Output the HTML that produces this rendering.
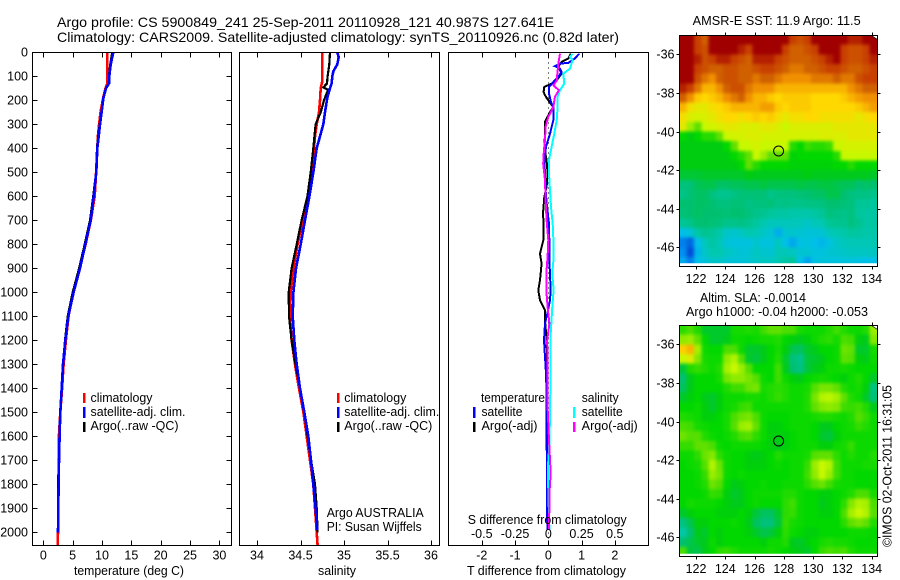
<!DOCTYPE html>
<html lang="en">
<head>
<meta charset="utf-8">
<title>Argo profile 5900849_241</title>
<style>
html,body{margin:0;padding:0;background:#fff;}
svg{display:block;}
text{font-family:"Liberation Sans",sans-serif;font-size:12.5px;fill:#000;}
.t{font-size:14px;}
</style>
</head>
<body>
<svg id="fig" xmlns="http://www.w3.org/2000/svg" width="900" height="580" viewBox="0 0 900 580">
<rect x="0" y="0" width="900" height="580" fill="#fff"/>
<defs>
<clipPath id="clip-sst"><rect x="679.3" y="35.3" width="198" height="228"/></clipPath>
<clipPath id="clip-sla"><rect x="679.3" y="325.7" width="198" height="228"/></clipPath>
<filter id="soften" x="-5%" y="-5%" width="110%" height="110%" color-interpolation-filters="sRGB">
<feGaussianBlur stdDeviation="1.6"/>
<feComponentTransfer><feFuncA type="linear" slope="30"/></feComponentTransfer>
</filter>
</defs>
<g id="maps"></g>
<g id="plots"></g>

<text class="t" x="57" y="27" textLength="497" lengthAdjust="spacingAndGlyphs">Argo profile: CS 5900849_241 25-Sep-2011 20110928_121 40.987S 127.641E</text>
<text class="t" x="57" y="42" textLength="562" lengthAdjust="spacingAndGlyphs">Climatology: CARS2009. Satellite-adjusted climatology: synTS_20110926.nc (0.82d later)</text>

<text x="74" y="575" textLength="110" lengthAdjust="spacingAndGlyphs">temperature (deg C)</text>
<text x="318" y="575" textLength="38" lengthAdjust="spacingAndGlyphs">salinity</text>
<text x="467" y="575" textLength="159" lengthAdjust="spacingAndGlyphs">T difference from climatology</text>
<text x="467.7" y="524" textLength="159" lengthAdjust="spacingAndGlyphs">S difference from climatology</text>

<g>
<rect x="83" y="393" width="2.5" height="10" fill="#f00"/>
<rect x="83" y="407" width="2.5" height="11" fill="#00f"/>
<rect x="83" y="422" width="2.5" height="10" fill="#000"/>
<text x="90.5" y="402" textLength="62" lengthAdjust="spacingAndGlyphs">climatology</text>
<text x="90.5" y="416" textLength="95" lengthAdjust="spacingAndGlyphs">satellite-adj. clim.</text>
<text x="90.5" y="430" textLength="88" lengthAdjust="spacingAndGlyphs">Argo(..raw -QC)</text>
</g>
<g>
<rect x="337" y="393" width="2.5" height="10" fill="#f00"/>
<rect x="337" y="407" width="2.5" height="11" fill="#00f"/>
<rect x="337" y="422" width="2.5" height="10" fill="#000"/>
<text x="344.3" y="402" textLength="62" lengthAdjust="spacingAndGlyphs">climatology</text>
<text x="344.3" y="416" textLength="95" lengthAdjust="spacingAndGlyphs">satellite-adj. clim.</text>
<text x="344.3" y="430" textLength="88" lengthAdjust="spacingAndGlyphs">Argo(..raw -QC)</text>
</g>
<text x="326.7" y="517" textLength="97" lengthAdjust="spacingAndGlyphs">Argo AUSTRALIA</text>
<text x="326.7" y="531" textLength="95" lengthAdjust="spacingAndGlyphs">PI: Susan Wijffels</text>

<g>
<text x="481" y="402" textLength="64" lengthAdjust="spacingAndGlyphs">temperature</text>
<rect x="473" y="407" width="2.5" height="11" fill="#00f"/>
<rect x="473" y="422" width="2.5" height="10" fill="#000"/>
<text x="481.5" y="416" textLength="41" lengthAdjust="spacingAndGlyphs">satellite</text>
<text x="481.5" y="430" textLength="56" lengthAdjust="spacingAndGlyphs">Argo(-adj)</text>
<text x="581.7" y="402" textLength="37" lengthAdjust="spacingAndGlyphs">salinity</text>
<rect x="573" y="407" width="2.5" height="11" fill="#0ff"/>
<rect x="573" y="422" width="2.5" height="10" fill="#f0f"/>
<text x="581.7" y="416" textLength="41" lengthAdjust="spacingAndGlyphs">satellite</text>
<text x="581.7" y="430" textLength="56" lengthAdjust="spacingAndGlyphs">Argo(-adj)</text>
</g>

<text x="692.7" y="25" textLength="168" lengthAdjust="spacingAndGlyphs">AMSR-E SST: 11.9 Argo: 11.5</text>
<text x="700" y="302" textLength="106" lengthAdjust="spacingAndGlyphs">Altim. SLA: -0.0014</text>
<text x="686" y="316" textLength="182" lengthAdjust="spacingAndGlyphs">Argo h1000: -0.04 h2000: -0.053</text>
<text transform="translate(891.5,547) rotate(-90)" x="0" y="0" textLength="162" lengthAdjust="spacingAndGlyphs">©IMOS 02-Oct-2011 16:31:05</text>

<script>
// ---------- chart data ----------
const depthTicks = [0,100,200,300,400,500,600,700,800,900,1000,1100,1200,1300,1400,1500,1600,1700,1800,1900,2000];
const tempTicks = [0,5,10,15,20,25,30];
const salTicks = [34,34.5,35,35.5,36];
const salTickLabels = ['34','34.5','35','35.5','36'];
const tDiffTicks = [-2,-1,0,1,2];
const tDiffLabels = ['-2','-1','0','1','2'];
const sDiffTicks = [-0.5,-0.25,0,0.25,0.5];
const sDiffLabels = ['-0.5','-0.25','0','0.25','0.5'];
const mapLonTicks = [122,124,126,128,130,132,134];
const mapLatTicks = [-36,-38,-40,-42,-44,-46];

const tempClimDepth = [0,100,130,150,190,250,300,350,400,500,600,700,800,900,1000,1100,1200,1300,1400,1500,1600,1700,1800,1900,2000,2054];
const tempClimValues = [10.9,10.9,10.9,10.6,10.2,9.75,9.5,9.3,9.2,9.0,8.75,8.1,7.2,6.2,5.1,4.3,3.85,3.45,3.2,2.9,2.65,2.65,2.6,2.55,2.5,2.45];
const tempArgoDepth = [0,50,100,130,150,190,250,300,350,400,500,600,700,800,900,1000,1100,1200,1300,1400,1500,1600,1700,1800,1900,2000];
const tempArgoValues = [11.75,11.4,11.2,11.15,10.7,10.2,9.9,9.6,9.35,9.15,9.0,8.5,7.95,7.05,6.1,5.0,4.15,3.7,3.35,3.1,2.9,2.75,2.65,2.5,2.5,2.5];
const tempSatDepth = [0,50,100,130,150,190,250,300,350,400,500,600,700,800,900,1000,1100,1200,1300,1400,1500,1600,1700,1800,1900,2000];
const tempSatValues = [11.93,11.48,11.25,11.19,10.68,10.23,9.94,9.66,9.43,9.20,9.03,8.58,8.07,7.16,6.25,5.17,4.26,3.75,3.35,3.13,2.90,2.78,2.67,2.61,2.56,2.50];

const salClimDepth = [0,120,150,200,250,300,350,400,500,600,700,800,900,1000,1100,1200,1300,1400,1500,1600,1700,1800,1900,2000,2054];
const salClimValues = [34.751,34.751,34.732,34.724,34.713,34.686,34.667,34.655,34.640,34.594,34.525,34.467,34.418,34.387,34.379,34.398,34.437,34.483,34.533,34.571,34.609,34.647,34.667,34.686,34.697];
const salArgoDepth = [0,50,100,130,146,157,170,200,250,300,400,500,600,700,800,900,1000,1100,1200,1300,1400,1500,1600,1700,1800,1900,2000];
const salArgoValues = [34.839,34.831,34.812,34.805,34.762,34.820,34.801,34.770,34.732,34.674,34.647,34.617,34.579,34.513,34.456,34.398,34.364,34.368,34.398,34.444,34.494,34.544,34.582,34.621,34.667,34.686,34.697];
const salSatDepth = [0,20,50,80,100,130,150,190,250,300,350,400,500,600,700,800,900,1000,1100,1200,1300,1400,1500,1600,1700,1800,1900,1990];
const salSatValues = [34.923,34.939,34.923,34.877,34.866,34.858,34.839,34.808,34.782,34.762,34.724,34.686,34.647,34.602,34.552,34.502,34.448,34.418,34.410,34.429,34.456,34.494,34.544,34.590,34.621,34.647,34.674,34.693];

const tDiffArgoDepth = [6,26,40,61,89,117,131,144,165,179,200,228,249,290,339,394,450,506,561,603,672,714,783,839,880,950,991,1033,1075,1116,1200,1339,1422,1616,1728,1839,1991];
const tDiffArgoValues = [.68,.60,.40,.30,.40,.25,.10,-.12,-.14,-.10,0,.15,.05,-.10,-.10,-.12,-.05,-.02,-.05,-.12,-.16,-.14,-.15,-.25,-.20,-.25,-.30,-.25,-.10,-.10,-.05,-.03,-.05,-.05,-.04,-.02,-.02];
const tDiffSatDepth = [6,26,44,47,58,68,82,103,124,144,172,207,228,283,339,394,450,506,575,644,714,783,866,922,991,1033,1089,1130,1200,1269,1339,1478,1755,1991];
const tDiffSatValues = [.93,.80,.60,.35,.20,.35,.40,.30,.15,.02,.02,.08,.15,.15,.05,-.07,-.12,-.10,-.08,-.04,.02,.03,.03,.05,.07,.05,-.03,-.10,-.13,-.10,-.07,-.04,-.04,-.03];
const sDiffSatDepth = [6,19,33,68,89,131,158,186,228,283,339,394,450,506,575,644,714,783,866,922,991,1061,1200,1339,1478,1616,1728,1825,1991];
const sDiffSatValues = [.183,.163,.183,.163,.113,.120,.088,.070,.070,.063,.045,.025,.005,.005,.013,.020,.033,.038,.038,.030,.040,.030,.015,.018,.013,.010,-.003,0,.008];
const sDiffArgoDepth = [6,47,117,138,158,186,228,269,311,367,408,464,533,617,700,783,852,922,991,1061,1130,1200,1339,1478,1616,1755,1825,1991];
const sDiffArgoValues = [.088,.075,.063,.038,.080,.050,.038,0,-.020,-.025,-.033,-.038,-.025,-.020,-.013,0,-.005,-.015,-.015,-.005,.008,-.008,-.005,-.005,.005,.018,.010,.005];

const mapLons = [120.86,121.36,121.86,122.36,122.86,123.36,123.86,124.36,124.86,125.36,125.86,126.36,126.86,127.36,127.86,128.36,128.86,129.36,129.86,130.36,130.86,131.36,131.86,132.36,132.86,133.36,133.86];
const mapLats = [-35,-35.5,-36,-36.5,-37,-37.5,-38,-38.5,-39,-39.5,-40,-40.5,-41,-41.5,-42,-42.5,-43,-43.5,-44,-44.5,-45,-45.5,-46,-46.5];
const argoLon = 127.641;
const argoLat = -40.987;

// SST (deg C, colour-scale estimate), one row per latitude
const sstGrid = [
[17,17,16,15,17,17,17,17,17,17,17,17,17,17,17,16,15.5,16,17,17,17,17,17,16.5,16.5,17,17],
[17,17,16,15.5,17,17,17,17,16.5,16,17,17,17,17,16,15,15,15.5,16,17,17,17,16,15.5,15.5,16,17],
[17,17,16.5,15.5,16,16.5,16.5,16,15.5,15,16.5,16.5,16.5,16,15.5,15,15,15,15.5,16,16.5,17,16,15.5,15.5,16,16.5],
[17,17,16,15.5,15,15,15.5,15.5,15,15,15.5,16,16,15.5,15,14.5,14.5,15,15,15.5,16,16,15.5,15,15,15.5,16],
[17,17,15.5,14.5,14,15,15.5,15.5,15,15,14.5,15,15,14.5,14,14,14,14,14.5,14.5,14.5,15,14.5,14.5,15.5,16,16],
[16.5,16,14.5,13.5,13.5,14,15,15.5,15.5,14.5,14,14,14,13.5,13.5,13.5,13.5,13.5,13.5,13.5,13.5,13.5,13.5,14,14.5,15,15],
[15,14,13.2,13,13.2,13.5,14,14.5,15,14,13.5,13.5,13.2,13,13.2,13.2,13.2,13.2,13,13,13,13,13.2,13.5,13.8,14,14],
[13.5,12.8,12.5,12.5,12.8,13,13.2,13.5,13.5,13.5,13.5,13.8,13.8,13.2,13,13.2,13.2,13.2,13,13,13,13,13,13,13.2,13.5,13.8],
[12.8,12.3,12.2,12.3,12.5,12.8,13,13,12.8,13,13.2,13,13.2,12.8,12.5,12.8,12.8,13,13,12.8,12.8,12.8,12.8,12.8,12.5,12.8,13],
[12.5,11.8,11.5,12,12.2,12.3,12.5,12.5,12.3,12.3,12.3,12.5,12.5,12.3,12,12.3,12.3,12.3,12.3,12.3,12.3,12.5,12.5,12.5,12.5,12.5,12.5],
[11,10.8,11,11.2,11.2,11.5,12,12.2,12.2,12.3,12.3,12.2,12.2,12.2,12.2,12.2,12.2,12.2,12.2,12.3,12.3,12.3,12.3,12.5,12.5,12.5,12.5],
[10.8,10.8,10.8,10.8,10.8,10.8,11,11.5,12,12,12.2,12,12,12,12,11.2,11,11.3,11.2,11.2,11.3,12,12.2,12.2,12.2,12.2,12.2],
[10.8,10.8,10.8,10.8,10.8,10.8,10.8,11,11.2,11.5,12,11.8,11.5,11.5,11.5,10.9,11,11,11,11,11,11.2,12,12,12,12,12],
[10.8,10.8,10.8,10.8,10.8,10.8,10.8,10.8,11,11.5,11.2,11,11,11,11,10.9,10.9,10.9,10.9,10.9,10.9,11,11,11.2,11,11,11],
[10.5,10.5,10.5,10.6,10.6,10.6,10.6,10.6,10.6,10.8,10.7,10.7,10.7,10.7,10.7,10.7,10.7,10.8,10.7,10.7,10.7,10.7,10.7,10.7,10.7,10.7,10.6],
[9.8,9.9,10.2,10.3,10.3,10.1,10.1,10.2,10.2,10.3,10.3,10.4,10.3,10.3,10.3,10.3,10.4,10.3,10.3,10.4,10.4,10.3,10.2,10.2,10,10.1,10],
[9.6,9.9,10.1,10.1,9.8,9.5,9.5,9.7,9.9,9.9,9.9,9.9,9.6,9.8,9.8,9.8,9.9,10,10.1,10.1,10.3,10.3,10,9.8,9.7,9.7,9.6],
[10,10,10.1,10.1,10,9.8,9.8,9.9,9.9,9.7,9.8,9.8,9.9,9.6,9.7,9.6,9.6,9.7,9.7,9.8,10,10,9.9,9.8,9.4,9.4,9.3],
[9.9,10,10.1,10,10,10,9.9,10,10,9.8,9.6,9.5,9.3,9.2,9.2,9.1,9.1,9.1,9.2,9.4,9.8,9.7,9.6,9.8,9.3,9.2,9.2],
[9.4,9.6,10,10,9.9,9.8,9.6,9.6,9.7,9.5,9.3,9,8.8,8.8,8.8,8.8,8.8,8.6,8.8,9,9.4,9.5,9.5,9.8,9.5,9.2,9.2],
[8,8.3,9.2,9.5,9.4,9.1,8.6,8.5,8.7,9,8.9,8.6,8.4,7.6,8.4,8.5,8.4,8.3,8.3,8.4,8.8,9,9.1,9.3,9.2,9.1,9.1],
[6.8,6.5,8,8.8,9.2,8.9,8.3,8.2,8.2,8.2,8.5,8.2,8.2,8.7,8,7.5,8.1,8.2,8,7.8,8.2,8.6,8.8,8.9,8.9,8.9,9],
[7,6.2,7.8,8.6,9,9,8.7,8.5,8.3,8.4,8.7,8.5,8.4,8.9,8.9,8.7,8.4,8.4,8.2,8.2,8.4,8.5,8.6,8.7,8.7,8.7,8.7],
[7.5,6.8,8,8.3,8.6,8.6,8.4,8.3,8.3,8.4,8.6,8.7,8.7,9,9.2,9.3,8,7.4,8.1,8.3,8.2,8.2,8.2,8.2,8.1,8,8]
];

// Sea level anomaly (cm, colour-scale estimate), one row per latitude
const slaGrid = [
[4,7,3,-3,-3,-3,-3,2,2,3,2,6,9,9,7,7,2,1,1,1,3,6,3,1,1,3,14],
[13,14,9,0,-3,-3,-2,1,1,0,1,2,2,3,0,-1,-2,-1,1,3,4,2,7,6,-1,-2,12],
[24,26,15,1,0,0,7,7,1,-3,-3,-2,0,2,-1,-5,-6,-3,-2,0,0,1,10,9,-3,-3,2],
[18,20,12,2,1,1,13,16,8,-3,-4,-2,0,3,-3,-8,-10,-4,-3,-2,0,1,9,8,-1,-2,1],
[-4,3,5,3,1,3,15,18,14,8,0,0,0,6,-2,-7,-9,-4,-2,-1,1,1,2,1,0,0,0],
[-7,-2,0,0,0,2,11,13,13,11,8,1,0,6,1,-1,-2,0,1,2,1,0,-1,1,3,0,-3],
[-6,-2,0,0,0,0,3,6,6,10,11,2,3,4,3,1,1,2,8,11,11,9,3,1,2,-1,-9],
[-3,-1,0,-2,-3,-1,1,1,1,2,2,1,3,5,3,1,1,3,11,16,17,15,9,3,1,-3,-8],
[0,0,1,-1,-3,-1,1,2,5,6,1,1,1,1,1,1,1,3,9,12,13,12,6,5,6,3,-2],
[3,2,1,-1,-1,0,2,7,10,11,7,1,0,0,0,1,1,1,2,3,3,2,1,3,8,5,1],
[7,6,2,1,0,0,2,8,14,15,9,1,-1,-1,0,1,1,1,0,-2,-2,0,1,2,5,3,1],
[10,8,8,3,1,0,1,3,7,8,4,1,-1,-1,-1,0,1,1,0,-3,-4,-1,1,1,1,1,1],
[5,5,9,9,7,1,0,1,1,1,1,0,-1,-2,-1,0,1,1,1,-1,-1,1,2,5,1,1,1],
[1,1,4,10,12,4,1,0,0,-1,-2,-1,0,3,1,1,1,2,8,9,9,4,1,3,1,1,3],
[0,1,2,8,16,10,1,0,0,-1,-1,-1,0,1,0,1,1,5,14,18,16,6,1,1,1,2,2],
[0,0,1,5,14,11,1,0,1,0,0,0,0,0,0,1,1,6,13,18,14,6,1,1,0,0,0],
[0,0,1,3,10,8,0,-2,-1,0,0,1,0,0,1,1,1,4,8,10,6,2,1,1,0,0,0],
[0,0,0,1,5,4,-1,-3,-2,0,1,1,1,1,3,3,1,0,0,-1,-1,0,1,3,7,7,2],
[0,2,1,1,1,0,-1,-2,-2,0,1,0,0,0,4,6,1,0,0,-2,-1,0,4,12,16,15,7],
[-3,-1,0,0,0,-1,-1,-1,0,-1,-4,-6,-6,-3,4,5,1,0,0,-1,-1,0,7,15,18,16,8],
[-9,-5,-1,-1,0,0,0,1,0,-2,-6,-8,-8,-4,5,2,1,0,0,0,0,0,4,9,11,9,3],
[-13,-7,-2,-3,0,-1,0,0,0,-1,-3,-5,-4,-1,4,1,0,-1,-1,0,0,0,0,1,1,1,0],
[-7,-5,-3,-2,1,-1,0,0,0,0,0,-1,1,1,3,-2,-3,-1,0,2,3,2,2,1,0,0,0],
[7,-4,-5,-2,0,4,5,3,1,1,1,1,2,1,0,-1,-2,-3,0,5,7,6,7,3,1,1,1]
];

// ---------- helpers ----------
const NS = 'http://www.w3.org/2000/svg';
function mk(parent, tag, attrs, txt){
  const e = document.createElementNS(NS, tag);
  for (const k in attrs) e.setAttribute(k, attrs[k]);
  if (txt !== undefined) e.textContent = txt;
  parent.appendChild(e);
  return e;
}
const plots = document.getElementById('plots');
const maps = document.getElementById('maps');

// ---------- axis functions ----------
const depthY = d => 52.3 + d * 0.24;
const tempX = v => 43.3 + v * 5.87;
const salX = v => 257 + (v - 34) * 87;
const tDiffX = v => 548.3 + v * 33.25;
const sDiffX = v => 548.3 + v * 133;
const lonX = lon => 696 + (lon - 122) * 14.64;
const sstLatY = lat => 54.3 + (-36 - lat) * 19.3;
const slaLatY = lat => 344.3 + (-36 - lat) * 19.3;

// ---------- panels ----------
const panelTop = 52.5, panelBottom = 545.5;
function drawPanel(name, left, right){
  const frame = mk(plots, 'rect', {x:left, y:panelTop, width:right-left, height:panelBottom-panelTop, fill:'none', stroke:'#000', 'stroke-width':1, 'shape-rendering':'crispEdges'});
  
  
}
function tickLine(x1, y1, x2, y2){
  const t = mk(plots, 'line', {x1:x1, y1:y1, x2:x2, y2:y2, stroke:'#000', 'stroke-width':1, 'shape-rendering':'crispEdges'});
  
  
}
function tickLabel(x, y, anchor, s){
  const t = mk(plots, 'text', {x:x, y:y, 'text-anchor':anchor}, s);
  
  
}
function drawSeries(name, depth, values, xFn, color, width){
  const pts = depth.map((d, i) => xFn(values[i]).toFixed(1) + ',' + depthY(d).toFixed(1)).join(' ');
  const p = mk(plots, 'polyline', {points:pts, fill:'none', stroke:color, 'stroke-width':width, 'shape-rendering':'crispEdges', 'stroke-linejoin':'miter'});
  
  
}

// zero line in the difference panel
const zeroLine = mk(plots, 'line', {x1:tDiffX(0), y1:depthY(0), x2:tDiffX(0), y2:depthY(2054), stroke:'#000', 'stroke-width':1, 'stroke-dasharray':'1 4', 'shape-rendering':'crispEdges'});



drawSeries('temperature-climatology-line', tempClimDepth, tempClimValues, tempX, '#f00', 2.6);
drawSeries('temperature-argo-line', tempArgoDepth, tempArgoValues, tempX, '#000', 2.2);
drawSeries('temperature-satellite-line', tempSatDepth, tempSatValues, tempX, '#00f', 2.6);

drawSeries('salinity-climatology-line', salClimDepth, salClimValues, salX, '#f00', 2.6);
drawSeries('salinity-argo-line', salArgoDepth, salArgoValues, salX, '#000', 2.2);
drawSeries('salinity-satellite-line', salSatDepth, salSatValues, salX, '#00f', 2.6);

drawSeries('t-difference-argo-line', tDiffArgoDepth, tDiffArgoValues, tDiffX, '#000', 2);
drawSeries('t-difference-satellite-line', tDiffSatDepth, tDiffSatValues, tDiffX, '#00f', 2);
drawSeries('s-difference-satellite-line', sDiffSatDepth, sDiffSatValues, sDiffX, '#0ff', 2);
drawSeries('s-difference-argo-line', sDiffArgoDepth, sDiffArgoValues, sDiffX, '#f0f', 2);

drawPanel('temperature-panel', 32.5, 231.5);
drawPanel('salinity-panel', 239.5, 439.5);
drawPanel('difference-panel', 448.5, 648.5);

depthTicks.forEach(d => {
  const y = Math.round(depthY(d)) + 0.5;
  tickLine(32.5, y, 37.5, y);
  tickLine(226.5, y, 231.5, y);
  tickLabel(28, y + 4, 'end', String(d));
});
tempTicks.forEach(v => {
  const x = Math.round(tempX(v)) + 0.5;
  tickLine(x, panelTop, x, panelTop + 5);
  tickLine(x, panelBottom, x, panelBottom - 5);
  tickLabel(tempX(v), 559.5, 'middle', String(v));
});
salTicks.forEach((v, i) => {
  const x = Math.round(salX(v)) + 0.5;
  tickLine(x, panelTop, x, panelTop + 5);
  tickLine(x, panelBottom, x, panelBottom - 5);
  tickLabel(salX(v), 559.5, 'middle', salTickLabels[i]);
});
tDiffTicks.forEach((v, i) => {
  const x = Math.round(tDiffX(v)) + 0.5;
  tickLine(x, panelTop, x, panelTop + 5);
  tickLine(x, panelBottom, x, panelBottom - 5);
  tickLabel(tDiffX(v), 559.5, 'middle', tDiffLabels[i]);
});
sDiffTicks.forEach((v, i) => {
  tickLabel(sDiffX(v), 538, 'middle', sDiffLabels[i]);
});

// ---------- maps ----------
const rampStops = [[6,0,64,208],[7,0,144,240],[8,0,192,232],[9,0,200,176],[10,0,192,112],[10.8,0,204,16],[11,0,216,0],[11.5,96,224,0],[12,200,248,0],[13,255,216,0],[14,240,144,0],[15,208,96,0],[16,200,64,0],[17,160,0,0]];
function ramp(v){
  if (v <= rampStops[0][0]) return 'rgb(' + rampStops[0].slice(1).join(',') + ')';
  for (let i = 1; i < rampStops.length; i++){
    const a = rampStops[i-1], b = rampStops[i];
    if (v <= b[0]){
      const f = (v - a[0]) / (b[0] - a[0]);
      return 'rgb(' + [1,2,3].map(k => Math.round(a[k] + (b[k] - a[k]) * f)).join(',') + ')';
    }
  }
  return 'rgb(160,0,0)';
}
function slaToRamp(cm){
  if (cm < 0) return 11 + cm / 7;
  if (cm <= 18) return 11 + cm / 18;
  return 12 + (cm - 18) * 1.5 / 8;
}

function drawMap(prefix, grid, latY, toRamp, clipId, frameTop, frameBottom){
  const outer = mk(maps, 'g', {'clip-path':'url(#' + clipId + ')'});
  
  
  const g = mk(outer, 'g', {filter:'url(#soften)'});
  
  
  const lonStep = mapLons[1] - mapLons[0];
  const latStep = mapLats[0] - mapLats[1];
  grid.forEach((row, j) => {
    row.forEach((val, i) => {
      const c = mk(g, 'rect', {
        x: lonX(mapLons[i]).toFixed(2),
        y: latY(mapLats[j]).toFixed(2),
        width: (lonStep * 14.64 + 0.6).toFixed(2),
        height: (latStep * 19.3 + 0.6).toFixed(2),
        fill: ramp(toRamp(val)),
        'shape-rendering': 'crispEdges'
      });
      
      
    });
  });
  const corner = mk(maps, 'polygon', {points:'871.5,' + frameTop + ' 877.5,' + frameTop + ' 877.5,' + (frameTop + 4), fill:'#fff', stroke:'#000', 'stroke-width':0.7});
  
  
  const f = mk(maps, 'rect', {x:679.5, y:frameTop, width:198, height:frameBottom-frameTop, fill:'none', stroke:'#000', 'stroke-width':1, 'shape-rendering':'crispEdges'});
  
  
  mapLonTicks.forEach(lon => {
    const x = Math.round(lonX(lon)) + 0.5;
    const a = mk(maps, 'line', {x1:x, y1:frameTop-3, x2:x, y2:frameTop, stroke:'#000', 'shape-rendering':'crispEdges'});
    
    
    const b = mk(maps, 'line', {x1:x, y1:frameBottom, x2:x, y2:frameBottom+3, stroke:'#000', 'shape-rendering':'crispEdges'});
    
    
    const l = mk(maps, 'text', {x:lonX(lon), y:frameBottom+16.5, 'text-anchor':'middle'}, String(lon));
    
    
  });
  mapLatTicks.forEach(lat => {
    const y = Math.round(latY(lat)) + 0.5;
    const a = mk(maps, 'line', {x1:676.5, y1:y, x2:679.5, y2:y, stroke:'#000', 'shape-rendering':'crispEdges'});
    
    
    const b = mk(maps, 'line', {x1:877.5, y1:y, x2:880.5, y2:y, stroke:'#000', 'shape-rendering':'crispEdges'});
    
    
    const l = mk(maps, 'text', {x:674.5, y:y+4, 'text-anchor':'end'}, String(lat));
    
    
  });
  const m = mk(maps, 'circle', {cx:lonX(argoLon).toFixed(1), cy:(latY(argoLat)+0.5).toFixed(1), r:5, fill:'none', stroke:'#000', 'stroke-width':1});
  
  
}
drawMap('sst-map', sstGrid, sstLatY, v => v, 'clip-sst', 35.5, 266.5);
drawMap('sla-map', slaGrid, slaLatY, slaToRamp, 'clip-sla', 325.5, 556.5);
</script>
</svg>
</body>
</html>
